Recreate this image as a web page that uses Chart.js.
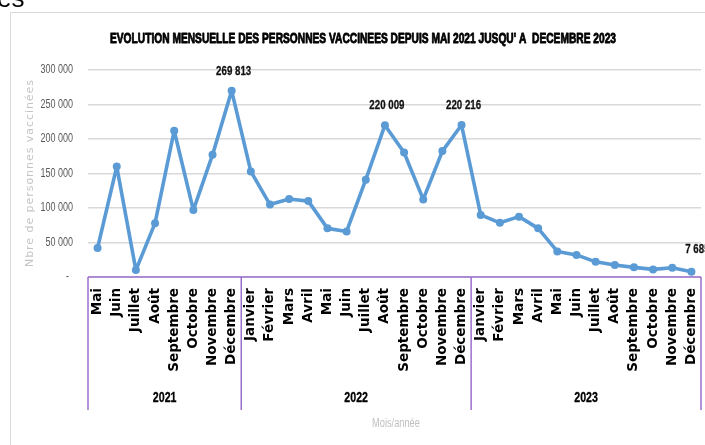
<!DOCTYPE html>
<html><head><meta charset="utf-8">
<script src="https://cdn.jsdelivr.net/npm/chart.js@4"></script>
<style>html,body{margin:0;padding:0;background:#fff;overflow:hidden}canvas{display:block}</style>
</head><body>
<canvas id="c" width="705" height="445"></canvas>
<script>
// ---- data ----
const years = ['2021', '2022', '2023'];
const months2021 = ['Mai','Juin','Juillet','Août','Septembre','Octobre','Novembre','Décembre'];
const months2022 = ['Janvier','Février','Mars','Avril','Mai','Juin','Juillet','Août','Septembre','Octobre','Novembre','Décembre'];
const months2023 = ['Janvier','Février','Mars','Avril','Mai','Juin','Juillet','Août','Septembre','Octobre','Novembre','Décembre'];
const values2021 = [42000, 160000, 10000, 78000, 212000, 97000, 177000, 269813];
const values2022 = [153000, 105000, 113000, 110000, 70500, 66000, 141000, 220009, 180500, 112500, 182500, 220216];
const values2023 = [90000, 78500, 87500, 70500, 37000, 32000, 22000, 17500, 14000, 11000, 13500, 7685];
const labelledPoints = [7, 15, 19, 31];
const yTicks = [0, 50000, 100000, 150000, 200000, 250000, 300000];
const titleText = "EVOLUTION MENSUELLE DES PERSONNES VACCINEES DEPUIS MAI 2021 JUSQU' A  DECEMBRE 2023";
const yTitle = 'Nbre de personnes vaccinées';
const xTitle = 'Mois/année';

const groups = [months2021, months2022, months2023];
const labels = [].concat(months2021, months2022, months2023);
const values = [].concat(values2021, values2022, values2023);

const FAM = "'Liberation Sans',Arial,sans-serif";
const NARROW_X = 0.76;
const fmt = n => String(n).replace(/\B(?=(\d{3})+(?!\d))/g, ' ');
const tickLabel = v => v === 0 ? '-' : fmt(v);

function narrowText(ctx, text, x, y, font, color, align, sx, stroke) {
  ctx.save();
  ctx.font = font; ctx.fillStyle = color;
  ctx.textAlign = align; ctx.textBaseline = 'middle';
  ctx.translate(x, y); ctx.scale(sx || NARROW_X, 1);
  ctx.fillText(text, 0, 0);
  if (stroke) { ctx.strokeStyle = color; ctx.lineWidth = stroke; ctx.lineJoin = 'round'; ctx.strokeText(text, 0, 0); }
  ctx.restore();
}

const deco = {
  id: 'deco',
  beforeDraw(chart) {
    const ctx = chart.ctx, ca = chart.chartArea;
    ctx.save();
    // outer frame
    ctx.strokeStyle = '#d9d9d9'; ctx.lineWidth = 1;
    ctx.beginPath(); ctx.moveTo(10.5, 445); ctx.lineTo(10.5, 12.5); ctx.lineTo(705, 12.5); ctx.stroke();
    // fragment of surrounding document text
    ctx.fillStyle = '#000'; ctx.font = "26px 'Liberation Sans',sans-serif";
    ctx.textAlign = 'left'; ctx.textBaseline = 'alphabetic';
    ctx.fillText('es', -3, 7);
    // title
    ctx.font = 'bold 15.5px ' + FAM;
    const tw = ctx.measureText(titleText).width;
    narrowText(ctx, titleText, 363, 38.5, 'bold 15.5px ' + FAM, '#000', 'center', 506 / tw, 0.9);
    // y title
    ctx.save();
    ctx.font = "11px 'DejaVu Sans',sans-serif";
    const w0 = ctx.measureText(yTitle).width;
    const sp = (187 - w0) / (yTitle.length - 1);
    ctx.letterSpacing = sp + 'px';
    ctx.translate(30, (ca.top + ca.bottom) / 2); ctx.rotate(-Math.PI / 2);
    ctx.fillStyle = '#c4c4c4'; ctx.textAlign = 'center'; ctx.textBaseline = 'middle';
    ctx.fillText(yTitle, sp / 2, 0);
    ctx.restore();
    // x title
    narrowText(ctx, xTitle, 396, 424, '12.5px ' + FAM, '#bfbfbf', 'center', 0.74);
    ctx.restore();
  },
  afterDatasetsDraw(chart) {
    const ctx = chart.ctx, meta = chart.getDatasetMeta(0);
    const last = values.length - 1;
    labelledPoints.forEach(i => {
      const p = meta.data[i];
      narrowText(ctx, fmt(values[i]), p.x + (i === last ? 6 : 2), p.y - (i === last ? 22 : 20),
        'bold 13.5px ' + FAM, '#111', 'center', 0.72, 0.3);
    });
  },
  afterDraw(chart) {
    const ctx = chart.ctx, ca = chart.chartArea, xs = chart.scales.x, ys = chart.scales.y;
    // y tick labels, positioned by the y scale
    ys.ticks.forEach(t => {
      const txt = tickLabel(t.value);
      narrowText(ctx, txt, t.value === 0 ? 69 : 73, ys.getPixelForValue(t.value), '12.5px ' + FAM, '#595959', 'right', 0.72);
    });
    ctx.save();
    ctx.strokeStyle = '#9b6fce'; ctx.lineWidth = 1.5;
    ctx.beginPath(); ctx.moveTo(ca.left, ca.bottom); ctx.lineTo(ca.right, ca.bottom); ctx.stroke();
    const band = xs.getPixelForValue(1) - xs.getPixelForValue(0);
    let idx = 0;
    const edges = [ca.left];
    groups.forEach(g => { idx += g.length; edges.push(xs.getPixelForValue(idx - 1) + band / 2); });
    edges[edges.length - 1] = ca.right;
    ctx.beginPath();
    edges.forEach(x => { ctx.moveTo(x, ca.bottom); ctx.lineTo(x, 410); });
    ctx.stroke();
    ctx.restore();
    years.forEach((y, k) => narrowText(ctx, y, (edges[k] + edges[k + 1]) / 2, 398, 'bold 14px ' + FAM, '#000', 'center', 0.76, 0.3));
  }
};

new Chart(document.getElementById('c'), {
  type: 'line',
  data: {
    labels: labels,
    datasets: [{
      data: values,
      borderColor: '#5b9bd5', backgroundColor: '#5b9bd5',
      borderWidth: 3.6, pointRadius: 4, pointBackgroundColor: '#5b9bd5',
      pointBorderWidth: 0, tension: 0, borderJoinStyle: 'round', borderCapStyle: 'round'
    }]
  },
  options: {
    responsive: false, animation: false, devicePixelRatio: 1,
    layout: { padding: { top: 70, right: 2, bottom: 0, left: 0 } },
    plugins: { legend: { display: false }, tooltip: { enabled: false }, title: { display: false } },
    scales: {
      x: {
        offset: true,
        grid: { display: false, drawTicks: false },
        border: { display: false },
        ticks: {
          autoSkip: false, minRotation: 90, maxRotation: 90, padding: 11,
          color: '#000', font: { family: "'DejaVu Sans',sans-serif", size: 13.5, weight: 'bold' }
        },
        afterFit: s => { s.height = 168; s.paddingLeft = 0; s.paddingRight = 0; }
      },
      y: {
        min: 0, max: 300000,
        grid: { color: '#d9d9d9', lineWidth: 1.5, drawTicks: false },
        border: { display: false },
        afterBuildTicks: s => { s.ticks = yTicks.map(v => ({ value: v })); },
        ticks: { display: false, callback: v => tickLabel(v) },
        afterFit: s => { s.width = 88; }
      }
    }
  },
  plugins: [deco]
});
</script>
</body></html>
